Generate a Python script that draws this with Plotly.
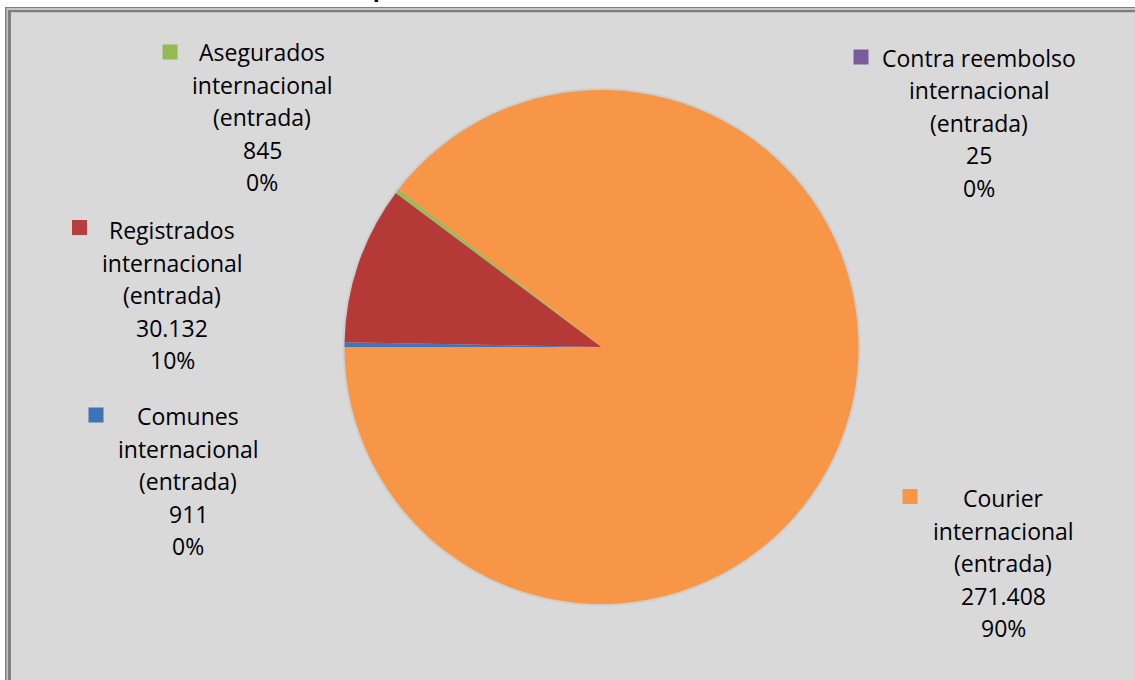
import plotly.graph_objects as go

# ---- data ----
categories = [
    "Comunes internacional (entrada)",
    "Registrados internacional (entrada)",
    "Asegurados internacional (entrada)",
    "Contra reembolso internacional (entrada)",
    "Courier internacional (entrada)",
]
values = [911, 30132, 845, 25, 271408]
title_text = "Distribución porcentual envíos internacionales (entrada)"

# ---- styles ----
slice_colors = ["#4274B8", "#B43937", "#9BBB59", "#8064A2", "#F79646"]
key_colors = ["#3F72B6", "#B5403D", "#94BA52", "#7A5C9E", "#F79646"]
W, H = 1135, 680
FONT = "Open Sans"
FS = 23
LINE = 32.5
# label block layout (pixels): centre x, first-line y, key square centre x, y
label_pos = [
    (188, 416, 96, 415),
    (172, 230, 79.5, 227.5),
    (262, 52, 170, 52),
    (979, 58, 861, 57),
    (1003, 498, 910, 496.5),
]


def px(x):
    return x / W


def py(y):
    return 1 - y / H


def fmt_int(v):
    return f"{v:,}".replace(",", ".")


def pct_largest_remainder(vals):
    tot = sum(vals)
    raw = [v * 100 / tot for v in vals]
    fl = [int(r) for r in raw]
    rest = 100 - sum(fl)
    order = sorted(range(len(vals)), key=lambda i: raw[i] - fl[i], reverse=True)
    for i in order[:rest]:
        fl[i] += 1
    return fl


pcts = pct_largest_remainder(values)

cx, cy, R = 601.5, 347, 257

fig = go.Figure(
    go.Pie(
        labels=categories,
        values=values,
        sort=False,
        direction="clockwise",
        rotation=270,
        marker=dict(colors=slice_colors, line=dict(width=0)),
        textinfo="none",
        hoverinfo="label+value+percent",
        domain=dict(x=[px(cx - R), px(cx + R)], y=[py(cy + R), py(cy - R)]),
        showlegend=False,
    )
)

shapes = []


def band(x0, y0, x1, y1, col):
    shapes.append(dict(type="rect", xref="paper", yref="paper", x0=px(x0), x1=px(x1),
                       y0=py(y1), y1=py(y0), fillcolor=col, line=dict(width=0), layer="below"))


# white margin above and left of the chart area
band(-50, -50, W + 300, 7, "#FFFFFF")
band(-50, -50, 5, H + 300, "#FFFFFF")
# double border along top and left (chart area continues past the window)
band(5, 7, W + 300, 8.3, "#7F7F7F")
band(5, 7, 6.7, H + 300, "#7F7F7F")
band(6.7, 8.3, W + 300, 10, "#C4C4C4")
band(6.7, 8.3, 8, H + 300, "#C4C4C4")
band(8, 10, W + 300, 12.3, "#7F7F7F")
band(8, 10, 11, H + 300, "#7F7F7F")
# soft pie shadow
shapes.append(dict(type="circle", xref="paper", yref="paper", x0=px(cx - R - 2), x1=px(cx + R + 2),
                   y0=py(cy + R + 2), y1=py(cy - R - 2), fillcolor="#CECECE",
                   line=dict(width=0), layer="below"))

annotations = []
for cat, v, p, col, (lx, ly, sx, sy) in zip(categories, values, pcts, key_colors, label_pos):
    lines = cat.replace(" internacional", "\ninternacional").replace(" (entrada)", "\n(entrada)").split("\n")
    lines += [fmt_int(v), f"{p}%"]
    for i, t in enumerate(lines):
        annotations.append(dict(text=t, x=px(lx), y=py(ly + i * LINE), xref="paper", yref="paper",
                                xanchor="center", yanchor="middle", showarrow=False,
                                font=dict(family=FONT, size=FS, color="#000000")))
    shapes.append(dict(type="rect", xref="paper", yref="paper", x0=px(sx - 7.5), x1=px(sx + 7.5),
                       y0=py(sy + 7.5), y1=py(sy - 7.5), fillcolor=col, line=dict(width=0)))

# title (sits mostly above the visible window, as in the reference)
annotations.append(dict(text=f"<b>{title_text}</b>", x=px(551.5), y=py(5), xref="paper", yref="paper",
                        xanchor="center", yanchor="bottom", showarrow=False,
                        font=dict(family=FONT, size=23, color="#000000")))

fig.update_layout(
    width=W, height=H,
    margin=dict(l=0, r=0, t=0, b=0),
    paper_bgcolor="#D9D9D9",
    shapes=shapes,
    annotations=annotations,
)

fig.write_html(
    "out.html",
    config={"displayModeBar": False},
    post_script=("document.body.style.margin='0';document.body.style.overflow='hidden';"
                 "document.documentElement.style.overflow='hidden';"),
)
